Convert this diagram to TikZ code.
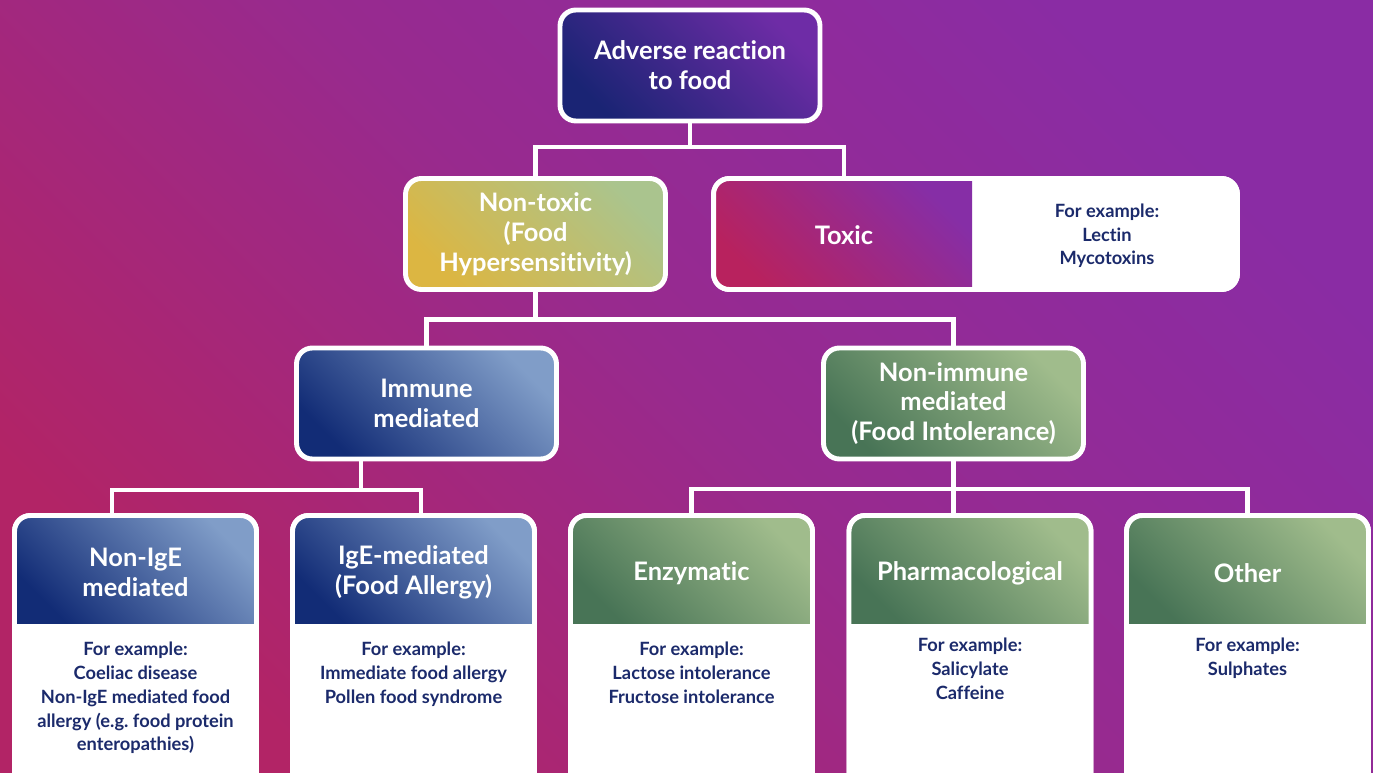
\documentclass[tikz,border=0pt]{standalone}
\usepackage{fontspec}
\setmainfont{Lato}[Ligatures=NoCommon]
\usetikzlibrary{calc,positioning}
\definecolor{bgpurple}{RGB}{138,44,164}
\definecolor{bgmid}{RGB}{152,42,142}
\definecolor{bgred}{RGB}{178,36,102}
\definecolor{rootdark}{RGB}{26,36,116}
\definecolor{rootlight}{RGB}{110,44,166}
\definecolor{golddark}{RGB}{220,182,66}
\definecolor{goldlight}{RGB}{170,196,142}
\definecolor{toxdark}{RGB}{184,34,94}
\definecolor{toxlight}{RGB}{134,46,166}
\definecolor{bluedark}{RGB}{18,44,118}
\definecolor{bluelight}{RGB}{128,157,200}
\definecolor{greendark}{RGB}{72,116,86}
\definecolor{greenlight}{RGB}{160,188,140}
\definecolor{textnavy}{RGB}{27,42,107}

\begin{document}
\begin{tikzpicture}[x=0.02cm, y=-0.02cm,
    box/.style={rounded corners=9pt, draw=white, line width=2.8pt, outer sep=0pt, minimum width=5.2cm, minimum height=2.22cm, align=center, text=white, font=\bfseries\fontsize{14.5}{17}\selectfont},
    card/.style={rounded corners=9pt, draw=white, fill=white, line width=2.8pt, outer sep=0pt, minimum width=4.84cm, minimum height=5.69cm},
    head/.style={align=center, text=white, font=\bfseries\fontsize{14.5}{17}\selectfont},
    ex/.style={align=center, text=textnavy, inner sep=0pt, font=\bfseries\fontsize{10.4}{13.5}\selectfont},
    link/.style={draw=white, line width=2.8pt},
    rim/.style={draw=white, line width=2.8pt, rounded corners=9pt},
    rootshade/.style={top color=rootlight, bottom color=rootdark, shading angle=-45},
    goldshade/.style={top color=goldlight, bottom color=golddark, shading angle=-45},
    toxshade/.style={top color=toxlight, bottom color=toxdark, shading angle=-45},
    blueshade/.style={top color=bluelight, bottom color=bluedark, shading angle=-45},
    greenshade/.style={top color=greenlight, bottom color=greendark, shading angle=-45}
  ]
  \clip (0,0) rectangle (1373,773);
  \shade[top color=bgpurple, bottom color=bgred, middle color=bgmid, shading angle=-45] (0,0) rectangle (1373,773);

  % Top level
  \node[box, rootshade] (root) at (690,65.5) {Adverse reaction\\to food};

  % Second level
  \node[box, goldshade] (nontox) at (535.5,234) {Non-toxic\\(Food\\Hypersensitivity)};
  \node[box, fill=white, minimum width=10.48cm] (toxic) at (975.5,234) {};
  \begin{scope}
    \clip[rounded corners=9pt] (toxic.south west) rectangle (toxic.north east);
    \shade[toxshade] (toxic.north west) rectangle ([xshift=-5.31cm]toxic.south east);
  \end{scope}
  \draw[rim] (toxic.south west) rectangle (toxic.north east);
  \node[head] (toxlbl) at (844,235) {Toxic};
  \node[ex] (toxex) at (1107,236) {For example:\\Lectin\\Mycotoxins};

  % Third level
  \node[box, blueshade] (immune) at (426.5,403.5) {Immune\\mediated};
  \node[box, greenshade] (nonimm) at (953.5,403.5) {Non-immune\\mediated\\(Food Intolerance)};

  % Leaves: white cards with a shaded head
  \node[card] (nigebox) at (135.5,657.75) {};
  \node[card] (igebox) at (413.5,657.75) {};
  \node[card] (enzbox) at (691.5,657.75) {};
  \node[card] (pharmbox) at (970,657.75) {};
  \node[card] (othbox) at (1247.5,657.75) {};
  \foreach \b/\s in {nigebox/blueshade, igebox/blueshade, enzbox/greenshade, pharmbox/greenshade, othbox/greenshade}{
    \begin{scope}
      \clip[rounded corners=9pt] (\b.south west) rectangle (\b.north east);
      \shade[\s] (\b.north west) rectangle ([yshift=-2.15cm]\b.north east);
    \end{scope}
    \draw[rim] (\b.south west) rectangle (\b.north east);
  }

  \node[head] (nige) at (135.5,572) {Non-IgE\\mediated};
  \node[ex, anchor=north] (nigeex) at (135.5,642) {For example:\\Coeliac disease\\Non-IgE mediated food\\allergy (e.g.\ food protein\\enteropathies)};

  \node[head] (ige) at (413.5,572) {IgE-mediated\\(Food Allergy)};
  \node[ex, anchor=north] (igeex) at (413.5,642) {For example:\\Immediate food allergy\\Pollen food syndrome};

  \node[head] (enz) at (691.5,573) {Enzymatic};
  \node[ex, anchor=north] (enzex) at (691.5,642) {For example:\\Lactose intolerance\\Fructose intolerance};

  \node[head] (pharm) at (970,573) {Pharmacological};
  \node[ex, anchor=north] (pharmex) at (970,638) {For example:\\Salicylate\\Caffeine};

  \node[head] (oth) at (1247.5,573) {Other};
  \node[ex, anchor=north] (othex) at (1247.5,638) {For example:\\Sulphates};

  % Connectors
  \draw[link] (root.south) -- ++(0,26) -| (nontox.north);
  \draw[link] (root.south) -- ++(0,26) -| (toxic.north -| toxlbl);
  \draw[link] (nontox.south) -- ++(0,30) -| (immune.north);
  \draw[link] (nontox.south) -- ++(0,30) -| (nonimm.north);

  \coordinate (ibus) at (361,490);
  \coordinate (ileft) at (112,490);
  \coordinate (iright) at (421,490);
  \draw[link] (immune.south -| ibus) -- (ibus);
  \draw[link] (nigebox.north -| ileft) -- (ileft) -- (iright) -- (igebox.north -| iright);

  \coordinate (nbus) at ([yshift=-0.6cm]nonimm.south);
  \draw[link] (nonimm.south) -- (nbus) -- (pharmbox.north -| nbus);
  \draw[link] (enzbox.north) |- (nbus) -| (othbox.north);
\end{tikzpicture}
\end{document}
